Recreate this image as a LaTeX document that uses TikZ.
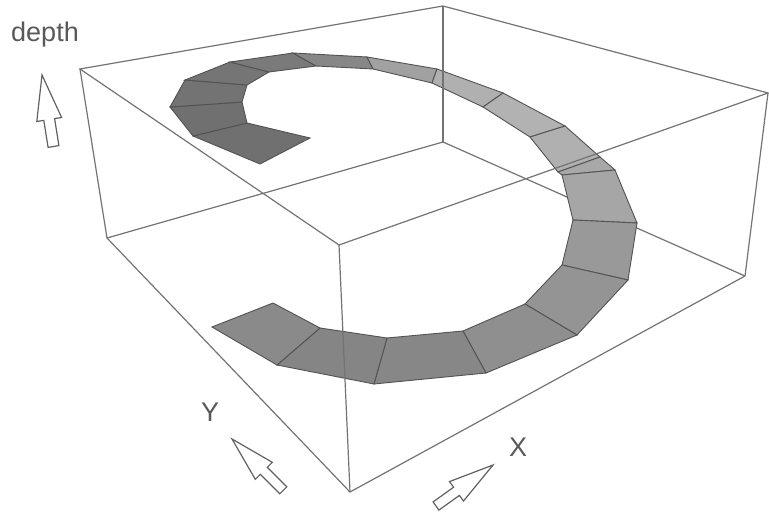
\documentclass[tikz,border=0pt]{standalone}
\usepackage{fontspec}
\setmainfont{Liberation Sans}
\begin{document}
\begin{tikzpicture}[x=0.5pt,y=-0.5pt,
  boxedge/.style={draw=black!55,line width=0.6pt},
  stripedge/.style={draw=black!68,line width=0.45pt},
  blockarrow/.style={draw=black!62,fill=white,line width=0.6pt,line join=miter},
  lbl/.style={text=black!65,font=\fontsize{13.5}{16}\selectfont,inner sep=0pt}]
\useasboundingbox (0,0) rectangle (769,512);
% box corners
\coordinate (tA) at (80,69);
\coordinate (tB) at (443,6);
\coordinate (tC) at (768,93);
\coordinate (tD) at (339,245);
\coordinate (bA) at (107,238);
\coordinate (bB) at (443,142);
\coordinate (bC) at (745,276);
\coordinate (bD) at (350,492);
% hidden back edge
\draw[boxedge] (bB) -- (bC);
% strip cross sections: inner / outer
\coordinate (i0) at (310,138);  \coordinate (o0) at (260,164);
\coordinate (i1) at (247,123);  \coordinate (o1) at (193,136);
\coordinate (i2) at (242,102);  \coordinate (o2) at (170,107);
\coordinate (i3) at (247,85);   \coordinate (o3) at (185,80);
\coordinate (i4) at (269,72);   \coordinate (o4) at (230,62);
\coordinate (i5) at (316,66);   \coordinate (o5) at (293,53);
\coordinate (i6) at (373,69);   \coordinate (o6) at (367,57);
\coordinate (i7) at (432,83);   \coordinate (o7) at (437,69);
\coordinate (i8) at (483,107);  \coordinate (o8) at (503,93);
\coordinate (i9) at (530,137);  \coordinate (o9) at (565,126);
\coordinate (i10) at (558,172); \coordinate (o10) at (600,157);
\coordinate (i11) at (562,175); \coordinate (o11) at (615,170);
\coordinate (i12) at (573,220); \coordinate (o12) at (637,223);
\coordinate (i13) at (562,265); \coordinate (o13) at (628,280);
\coordinate (i14) at (525,304); \coordinate (o14) at (577,335);
\coordinate (i15) at (463,331); \coordinate (o15) at (486,373);
\coordinate (i16) at (387,338); \coordinate (o16) at (374,384);
\coordinate (i17) at (320,328); \coordinate (o17) at (277,365);
\coordinate (i18) at (273,303); \coordinate (o18) at (212,327);
\foreach \a/\b/\k in {0/1/56,1/2/56,2/3/55,3/4/54,4/5/52,5/6/47,6/7/37,7/8/31,8/9/30,9/10/31,10/11/34,11/12/35,12/13/40,13/14/42,14/15/44,15/16/47,16/17/48,17/18/46}
  \filldraw[stripedge,fill=black!\k] (i\a) -- (o\a) -- (o\b) -- (i\b) -- cycle;
% remaining box edges
\draw[boxedge] (tA) -- (tB) -- (tC) -- (tD) -- cycle;
\draw[boxedge] (bA) -- (bB);
\draw[boxedge] (bC) -- (bD) -- (bA);
\draw[boxedge] (tA) -- (bA);
\draw[boxedge] (tB) -- (bB);
\draw[boxedge] (tC) -- (bC);
\draw[boxedge] (tD) -- (bD);
% axis arrows
\draw[blockarrow] (42,75) -- (61.6,117.5) -- (54.6,118.6) -- (58.9,145.6) -- (48.1,147.4) -- (43.8,120.4) -- (36.8,121.5) -- cycle;
\draw[blockarrow] (232,439) -- (272.3,462.3) -- (267.3,467.3) -- (286.8,486.8) -- (279.8,493.8) -- (260.3,474.3) -- (255.3,479.3) -- cycle;
\draw[blockarrow] (493,465) -- (463.5,501.0) -- (459.4,495.4) -- (438.9,510.1) -- (433.1,501.9) -- (453.6,487.2) -- (449.5,481.6) -- cycle;
% labels
\node[lbl,anchor=base] (ldepth) at (45,42) {depth};
\node[lbl] (ly) at (210,412) {Y};
\node[lbl] (lx) at (518,447) {X};
\end{tikzpicture}
\end{document}
